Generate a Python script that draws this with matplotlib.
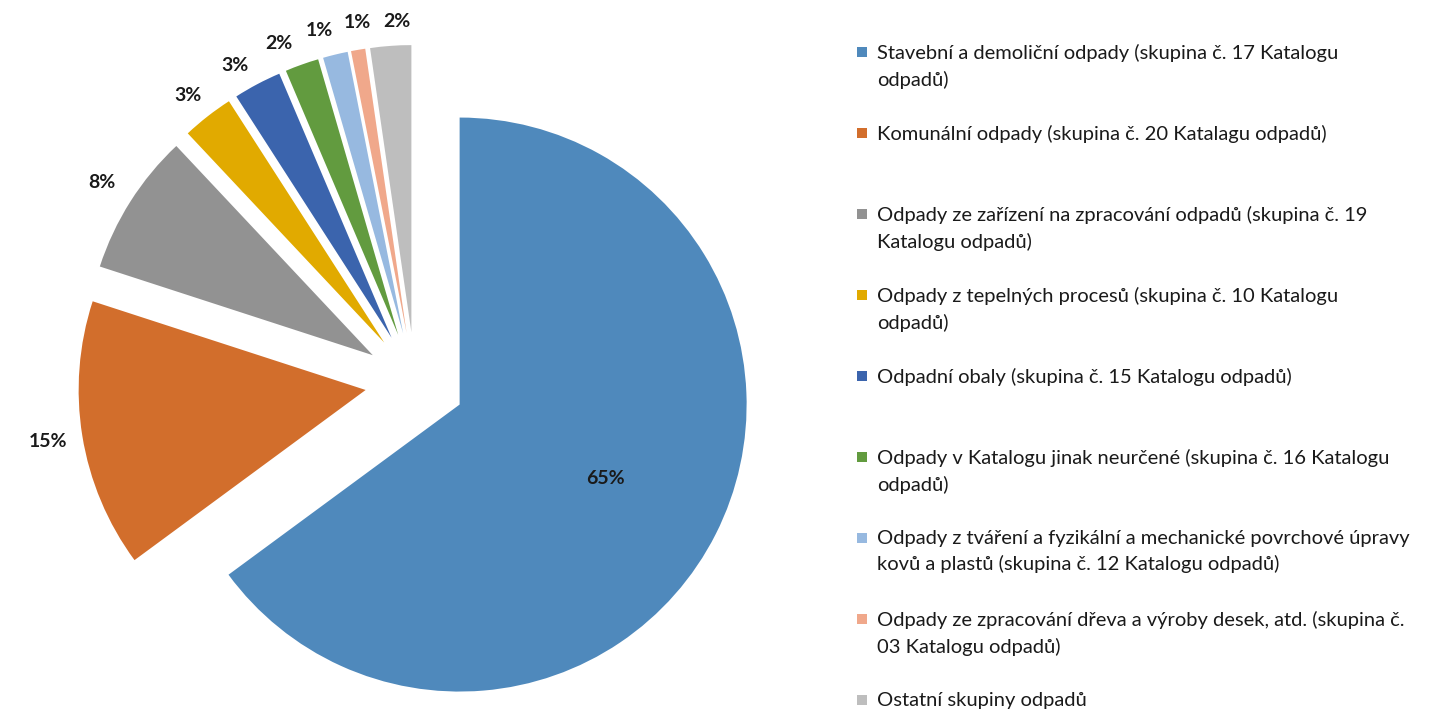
import numpy as np
import matplotlib.pyplot as plt
from matplotlib.patches import Rectangle

plt.rcParams['font.family'] = ['Lato', 'DejaVu Sans']

# data
labels = [
    "Stavební a demoliční odpady (skupina č. 17 Katalogu\nodpadů)",
    "Komunální odpady (skupina č. 20 Katalagu odpadů)",
    "Odpady ze zařízení na zpracování odpadů (skupina č. 19\nKatalogu odpadů)",
    "Odpady z tepelných procesů (skupina č. 10 Katalogu\nodpadů)",
    "Odpadní obaly (skupina č. 15 Katalogu odpadů)",
    "Odpady v Katalogu jinak neurčené (skupina č. 16 Katalogu\nodpadů)",
    "Odpady z tváření a fyzikální a mechanické povrchové úpravy\nkovů a plastů (skupina č. 12 Katalogu odpadů)",
    "Odpady ze zpracování dřeva a výroby desek, atd. (skupina č.\n03 Katalogu odpadů)",
    "Ostatní skupiny odpadů",
]
shares = [64.9, 15.1, 8.0, 2.9, 2.7, 1.9, 1.4, 0.8, 2.3]
colors = ['#4F89BC', '#D26E2C', '#929292', '#E1AA00', '#3B64AD',
          '#629B3F', '#97B9E0', '#F0A88B', '#BEBEBE']

W, H = 1440, 713
fig = plt.figure(figsize=(W / 100, H / 100), dpi=100)

# pie axes: 1 data unit = 287 px, centre at px (415, 382)
R = 287.0
cx, cy = 415.0, 382.0
pw = 860.0
ax = fig.add_axes([0, 0, pw / W, 1])
wedges, texts, autotexts = ax.pie(
    shares, colors=colors, startangle=90, counterclock=False,
    explode=[50 / R] * len(shares), radius=1.0,
    autopct='%.0f%%', pctdistance=1.1,
    wedgeprops=dict(linewidth=0),
    textprops=dict(fontsize=14, fontweight='bold', color='#1a1a1a'))
ax.set_aspect('auto')
ax.set_xlim(-cx / R, (pw - cx) / R)
ax.set_ylim(-(H - cy) / R, cy / R)
ax.axis('off')

# label placement: inside for the big slice, outside for the rest,
# small angular nudges (deg) to keep the tiny-slice labels apart
dist = [0.57, 1.12, 1.12, 1.10, 1.095, 1.095, 1.095, 1.095, 1.085]
nudge = [0, 0, 0, 0.5, 2.0, 2.6, 1.8, -0.8, -1.4]
for w, t, d, n in zip(wedges, autotexts, dist, nudge):
    th = np.deg2rad((w.theta1 + w.theta2) / 2 + n)
    x0, y0 = w.center
    t.set_position((x0 + d * np.cos(th), y0 + d * np.sin(th)))
    t.set_ha('center')
    t.set_va('center')

# legend drawn in pixel coordinates
lg = fig.add_axes([0, 0, 1, 1])
lg.set_xlim(0, W)
lg.set_ylim(H, 0)
lg.axis('off')
y_first = 52
step = 81
for i, (lab, c) in enumerate(zip(labels, colors)):
    y = y_first + step * i
    lg.add_patch(Rectangle((857, y - 5), 10, 10, color=c, lw=0))
    lg.text(877, y - 8, lab, fontsize=14.5, color='#1a1a1a',
            va='top', ha='left', linespacing=1.56)

fig.savefig('out.png', dpi=100)
